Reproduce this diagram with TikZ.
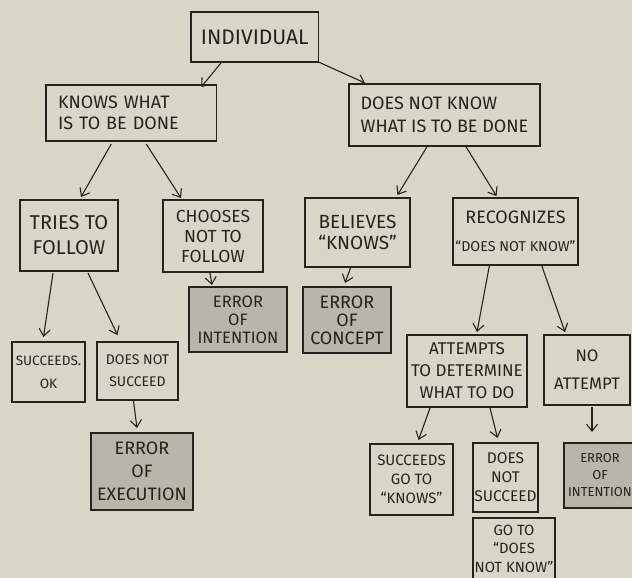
\documentclass[tikz,border=0pt]{standalone}
\usepackage{xcolor}
\usepackage{fontspec}
\setmainfont{Fira Sans}
\usepackage{tikz}
\usetikzlibrary{arrows.meta}

\definecolor{paper}{RGB}{216,215,199}
\definecolor{ink}{RGB}{38,35,31}
\definecolor{shadefill}{RGB}{184,182,168}

\begin{document}
\begin{tikzpicture}[x=1pt,y=-1pt,
		box/.style={draw=ink,line width=1.3pt,inner sep=0pt,outer sep=0pt,align=center,text=ink},
		errbox/.style={box,fill=shadefill},
		lettering/.style 2 args={font=\fontsize{#1}{#2}\selectfont},
		arr/.style={draw=ink,line width=1.1pt,-{Straight Barb[length=7pt,width=11pt]}}]
			\fill[paper] (0,0) rectangle (632,578);
			\useasboundingbox (0,0) rectangle (632,578);
			% top
			\node[box,lettering={21}{24},minimum width=127.5,minimum height=50] (ind) at (254.75,37) {INDIVIDUAL};
			\node[box,lettering={18}{21},align=left,inner xsep=12pt,text width=146.5pt,minimum height=56] (know) at (131.25,113) {KNOWS WHAT\\IS TO BE DONE};
			\node[box,lettering={18}{23},align=left,minimum width=191,minimum height=62] (dnk) at (444.5,115) {DOES NOT KNOW\\WHAT IS TO BE DONE};
			% second row
			\node[box,lettering={20}{25},minimum width=98,minimum height=71] (tries) at (69,235.5) {TRIES TO\\FOLLOW};
			\node[box,lettering={17.5}{20},minimum width=100,minimum height=72] (choose) at (213,236) {CHOOSES\\NOT TO\\FOLLOW};
			\node[box,lettering={19}{21},minimum width=105,minimum height=69] (believes) at (357.5,232.5) {BELIEVES\\``KNOWS''};
			\node[box,lettering={14.3}{28},minimum width=125,minimum height=67] (recog) at (515.5,231.5) {{\fontsize{18}{28}\selectfont RECOGNIZES}\\``DOES NOT KNOW''};
			% third row
			\node[errbox,lettering={16.5}{18},minimum width=98,minimum height=65] (errint) at (238,319.5) {ERROR\\OF\\INTENTION};
			\node[errbox,lettering={18}{18},minimum width=88,minimum height=66] (errcon) at (347,320) {ERROR\\OF\\CONCEPT};
			\node[box,lettering={13.6}{23},minimum width=73,minimum height=60] (ok) at (48.5,372) {SUCCEEDS.\\OK};
			\node[box,lettering={14}{22},minimum width=81,minimum height=58] (dns1) at (137.5,371) {DOES NOT\\SUCCEED};
			\node[box,lettering={17}{22},minimum width=120,minimum height=72] (attempts) at (467,371) {ATTEMPTS\\TO DETERMINE\\WHAT TO DO};
			\node[box,lettering={16.7}{28},minimum width=86,minimum height=70] (noatt) at (587,370) {NO\\ATTEMPT};
			% bottom
			\node[errbox,lettering={18}{23},minimum width=102,minimum height=77] (errexe) at (142,471.5) {ERROR\\OF\\EXECUTION};
			\node[box,lettering={15}{19},minimum width=83,minimum height=71] (succgo) at (411.5,479.5) {SUCCEEDS\\GO TO\\``KNOWS''};
			\node[box,lettering={15.5}{19},minimum width=65,minimum height=69] (dns2) at (505.5,477.5) {DOES\\NOT\\SUCCEED};
			\node[box,lettering={14.8}{18.5},minimum width=82,minimum height=61] (goto) at (514,548.5) {GO TO\\``DOES\\NOT KNOW''};
			\node[errbox,lettering={13}{17},minimum width=72,minimum height=65] (errint2) at (600,475.5) {ERROR\\OF\\INTENTION};
			% arrows
			\draw[arr] ([xshift=-33pt]ind.south) -- ([xshift=70pt,yshift=-2pt]know.north);
			\draw[arr] (ind.south east) -- ([xshift=16pt,yshift=1pt]dnk.north west);
			\draw[arr] ([xshift=-20pt,yshift=-3pt]know.south) -- ([xshift=12pt,yshift=3pt]tries.north);
			\draw[arr] ([xshift=15pt,yshift=-3pt]know.south) -- ([xshift=-32pt,yshift=2pt]choose.north);
			\draw[arr] ([xshift=-17pt]dnk.south) -- ([xshift=40pt,yshift=3pt]believes.north);
			\draw[arr] ([xshift=21pt]dnk.south) -- ([xshift=-19pt,yshift=2pt]recog.north);
			\draw[arr] ([xshift=-16pt,yshift=-2pt]tries.south) -- ([xshift=-5pt,yshift=5pt]ok.north);
			\draw[arr] ([xshift=19pt,yshift=-2pt]tries.south) -- ([xshift=-20pt,yshift=7pt]dns1.north);
			\draw[arr] ([xshift=-3pt,yshift=-1pt]choose.south) -- ([xshift=-26pt,yshift=2pt]errint.north);
			\draw[arr] ([xshift=-4pt,yshift=-1pt]dns1.south) -- ([xshift=-5pt,yshift=5pt]errexe.north);
			\draw[arr] ([xshift=-7pt,yshift=-1pt]believes.south) -- ([xshift=-2pt,yshift=4pt]errcon.north);
			\draw[arr] ([xshift=-26pt]recog.south) -- ([xshift=10pt,yshift=3pt]attempts.north);
			\draw[arr] ([xshift=26pt]recog.south) -- ([xshift=-22pt,yshift=3pt]noatt.north);
			\draw[arr] ([xshift=-37pt,yshift=-1pt]attempts.south) -- ([xshift=7pt,yshift=4pt]succgo.north);
			\draw[arr] ([xshift=23pt,yshift=-1pt]attempts.south) -- ([xshift=-8pt,yshift=5pt]dns2.north);
			\draw[arr] ([xshift=5pt,yshift=-2pt]noatt.south) -- ([xshift=-8pt,yshift=11pt]errint2.north);
		\end{tikzpicture}
\end{document}
